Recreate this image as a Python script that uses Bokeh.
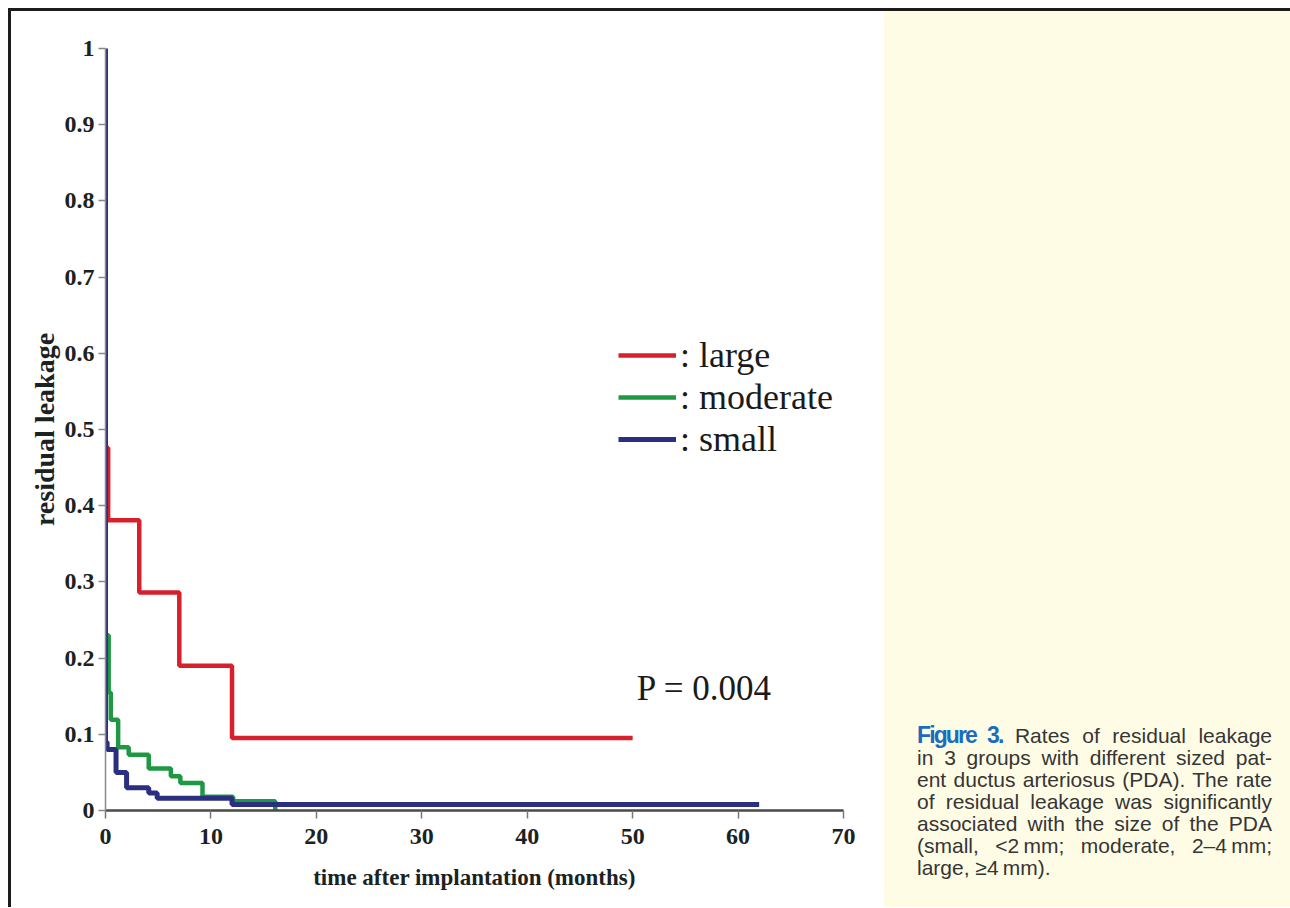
from bokeh.plotting import figure
from bokeh.models import FixedTicker, CustomJSTickFormatter, Legend, LegendItem, Label, Div
from bokeh.layouts import row, column
from bokeh.embed import file_html
from bokeh.resources import INLINE

# ---------------- data ----------------
x_ticks = [0, 10, 20, 30, 40, 50, 60, 70]
y_ticks = [0.0, 0.1, 0.2, 0.3, 0.4, 0.5, 0.6, 0.7, 0.8, 0.9, 1.0]

group_labels = ["large", "moderate", "small"]

large_time = [0, 0, 0.25, 3.2, 7.0, 12.0, 50.0]
large_rate = [1.0, 0.476, 0.381, 0.286, 0.190, 0.095, 0.095]

moderate_time = [0, 0, 0.3, 0.5, 1.2, 2.2, 4.1, 6.2, 7.1, 9.2, 12.1, 16.1]
moderate_rate = [1.0, 0.23, 0.155, 0.119, 0.083, 0.073, 0.055, 0.045, 0.036, 0.018, 0.012, 0.0]

small_time = [0, 0, 0.15, 1.0, 2.0, 4.1, 4.9, 12.0, 62.0]
small_rate = [1.0, 0.09, 0.08, 0.05, 0.03, 0.023, 0.016, 0.008, 0.008]

p_value_text = "P = 0.004"
x_title = "time after implantation (months)"
y_title = "residual leakage"

caption_head = "Figure 3."
caption_lines = [
    "Rates of residual leakage",
    "in 3 groups with different sized pat-",
    "ent ductus arteriosus (PDA). The rate",
    "of residual leakage was significantly",
    "associated with the size of the PDA",
    "(small, <2\u2009mm; moderate, 2\u20134\u2009mm;",
    "large, \u22654\u2009mm).",
]

colors = ["#d6202b", "#1f9844", "#2b2f80"]

# ---------------- plot ----------------
SERIF = "Liberation Serif"
ROW_H = 896

p = figure(width=873, height=ROW_H, x_range=(0, 70), y_range=(0, 1),
           output_backend="svg", toolbar_location=None,
           min_border_left=94, min_border_right=41,
           min_border_top=37, min_border_bottom=ROW_H - 37 - 762)
p.xgrid.visible = False
p.ygrid.visible = False
p.outline_line_color = None
p.background_fill_color = "white"
p.border_fill_color = "white"

xa = p.xaxis[0]
xa.ticker = FixedTicker(ticks=x_ticks)
xa.axis_line_color = "#4a4a4a"
xa.axis_line_width = 2.5
xa.major_tick_line_color = "#777777"
xa.major_tick_line_width = 1.5
xa.major_tick_out = 8
xa.major_tick_in = 0
xa.minor_tick_line_color = None
xa.major_label_text_font = SERIF
xa.major_label_text_font_style = "bold"
xa.major_label_text_font_size = "24px"
xa.major_label_text_color = "#1b2222"
xa.major_label_standoff = 10
xa.axis_label = x_title
xa.axis_label_text_font = SERIF
xa.axis_label_text_font_style = "bold"
xa.axis_label_text_font_size = "23px"
xa.axis_label_text_color = "#1b2222"
xa.axis_label_standoff = 18

ya = p.yaxis[0]
ya.ticker = FixedTicker(ticks=y_ticks)
ya.formatter = CustomJSTickFormatter(code="return tick.toFixed(1).replace(/\\.0$/, '');")
ya.axis_line_color = "#8a8a8a"
ya.axis_line_width = 1.5
ya.major_tick_line_color = "#888888"
ya.major_tick_line_width = 1.5
ya.major_tick_out = 7
ya.major_tick_in = 0
ya.minor_tick_line_color = None
ya.major_label_text_font = SERIF
ya.major_label_text_font_style = "bold"
ya.major_label_text_font_size = "24px"
ya.major_label_text_color = "#1b2222"
ya.major_label_standoff = 4
ya.axis_label = y_title
ya.axis_label_text_font = SERIF
ya.axis_label_text_font_style = "bold"
ya.axis_label_text_font_size = "28px"
ya.axis_label_text_color = "#1b2222"
ya.axis_label_standoff = 2

r_large = p.step(large_time, large_rate, mode="after", line_width=4.5, line_color=colors[0])
r_mod = p.step(moderate_time, moderate_rate, mode="after", line_width=4.5, line_color=colors[1])
r_small = p.step(small_time, small_rate, mode="after", line_width=5, line_color=colors[2])

legend = Legend(items=[
    LegendItem(label=": " + group_labels[0], renderers=[r_large]),
    LegendItem(label=": " + group_labels[1], renderers=[r_mod]),
    LegendItem(label=": " + group_labels[2], renderers=[r_small]),
], location=(513, 350))
legend.glyph_width = 58
legend.glyph_height = 40
legend.label_height = 40
legend.spacing = 0
legend.padding = 0
legend.margin = 0
legend.label_standoff = 4
legend.border_line_color = None
legend.background_fill_alpha = 0
legend.label_text_font = SERIF
legend.label_text_font_size = "36px"
legend.label_text_color = "#1a1a1a"
p.add_layout(legend)

p.add_layout(Label(x=50.4, y=0.16, text=p_value_text, text_font=SERIF,
                   text_font_size="35px", text_baseline="middle",
                   text_color="#1a1a1a"))

# ---------------- caption panel ----------------
line_style = "text-align:justify;text-align-last:justify;white-space:nowrap;"
head = ("<span style=\"font-family:'Liberation Sans',Arial,sans-serif;"
        "font-weight:bold;font-size:23px;letter-spacing:-1.9px;color:#1a6cc0;\">"
        + caption_head + "</span>")
html_lines = []
for i, ln in enumerate(caption_lines):
    txt = (head + " " + ln) if i == 0 else ln
    st = line_style if i < len(caption_lines) - 1 else "white-space:nowrap;"
    html_lines.append("<div style=\"" + st + "\">" + txt + "</div>")
caption_html = ("<div style=\"box-sizing:content-box;width:355px;padding:713px 0 0 33px;"
                "font-family:'Liberation Sans',Arial,sans-serif;font-size:21px;"
                "line-height:22px;color:#353535;\">" + "".join(html_lines) + "</div>")

caption = Div(text=caption_html, width=406, height=ROW_H, margin=0,
              styles={"background-color": "#fffce6"})

top_bar = Div(text="", width=1282, height=3, margin=0,
              styles={"background-color": "#1c1c1c"})
left_bar = Div(text="", width=3, height=ROW_H, margin=0,
               styles={"background-color": "#1c1c1c"})

layout = column(top_bar, row(left_bar, p, caption, spacing=0), spacing=0,
                margin=(8, 0, 0, 8))

open("out.html", "w").write(file_html(layout, INLINE, "Figure 3"))
